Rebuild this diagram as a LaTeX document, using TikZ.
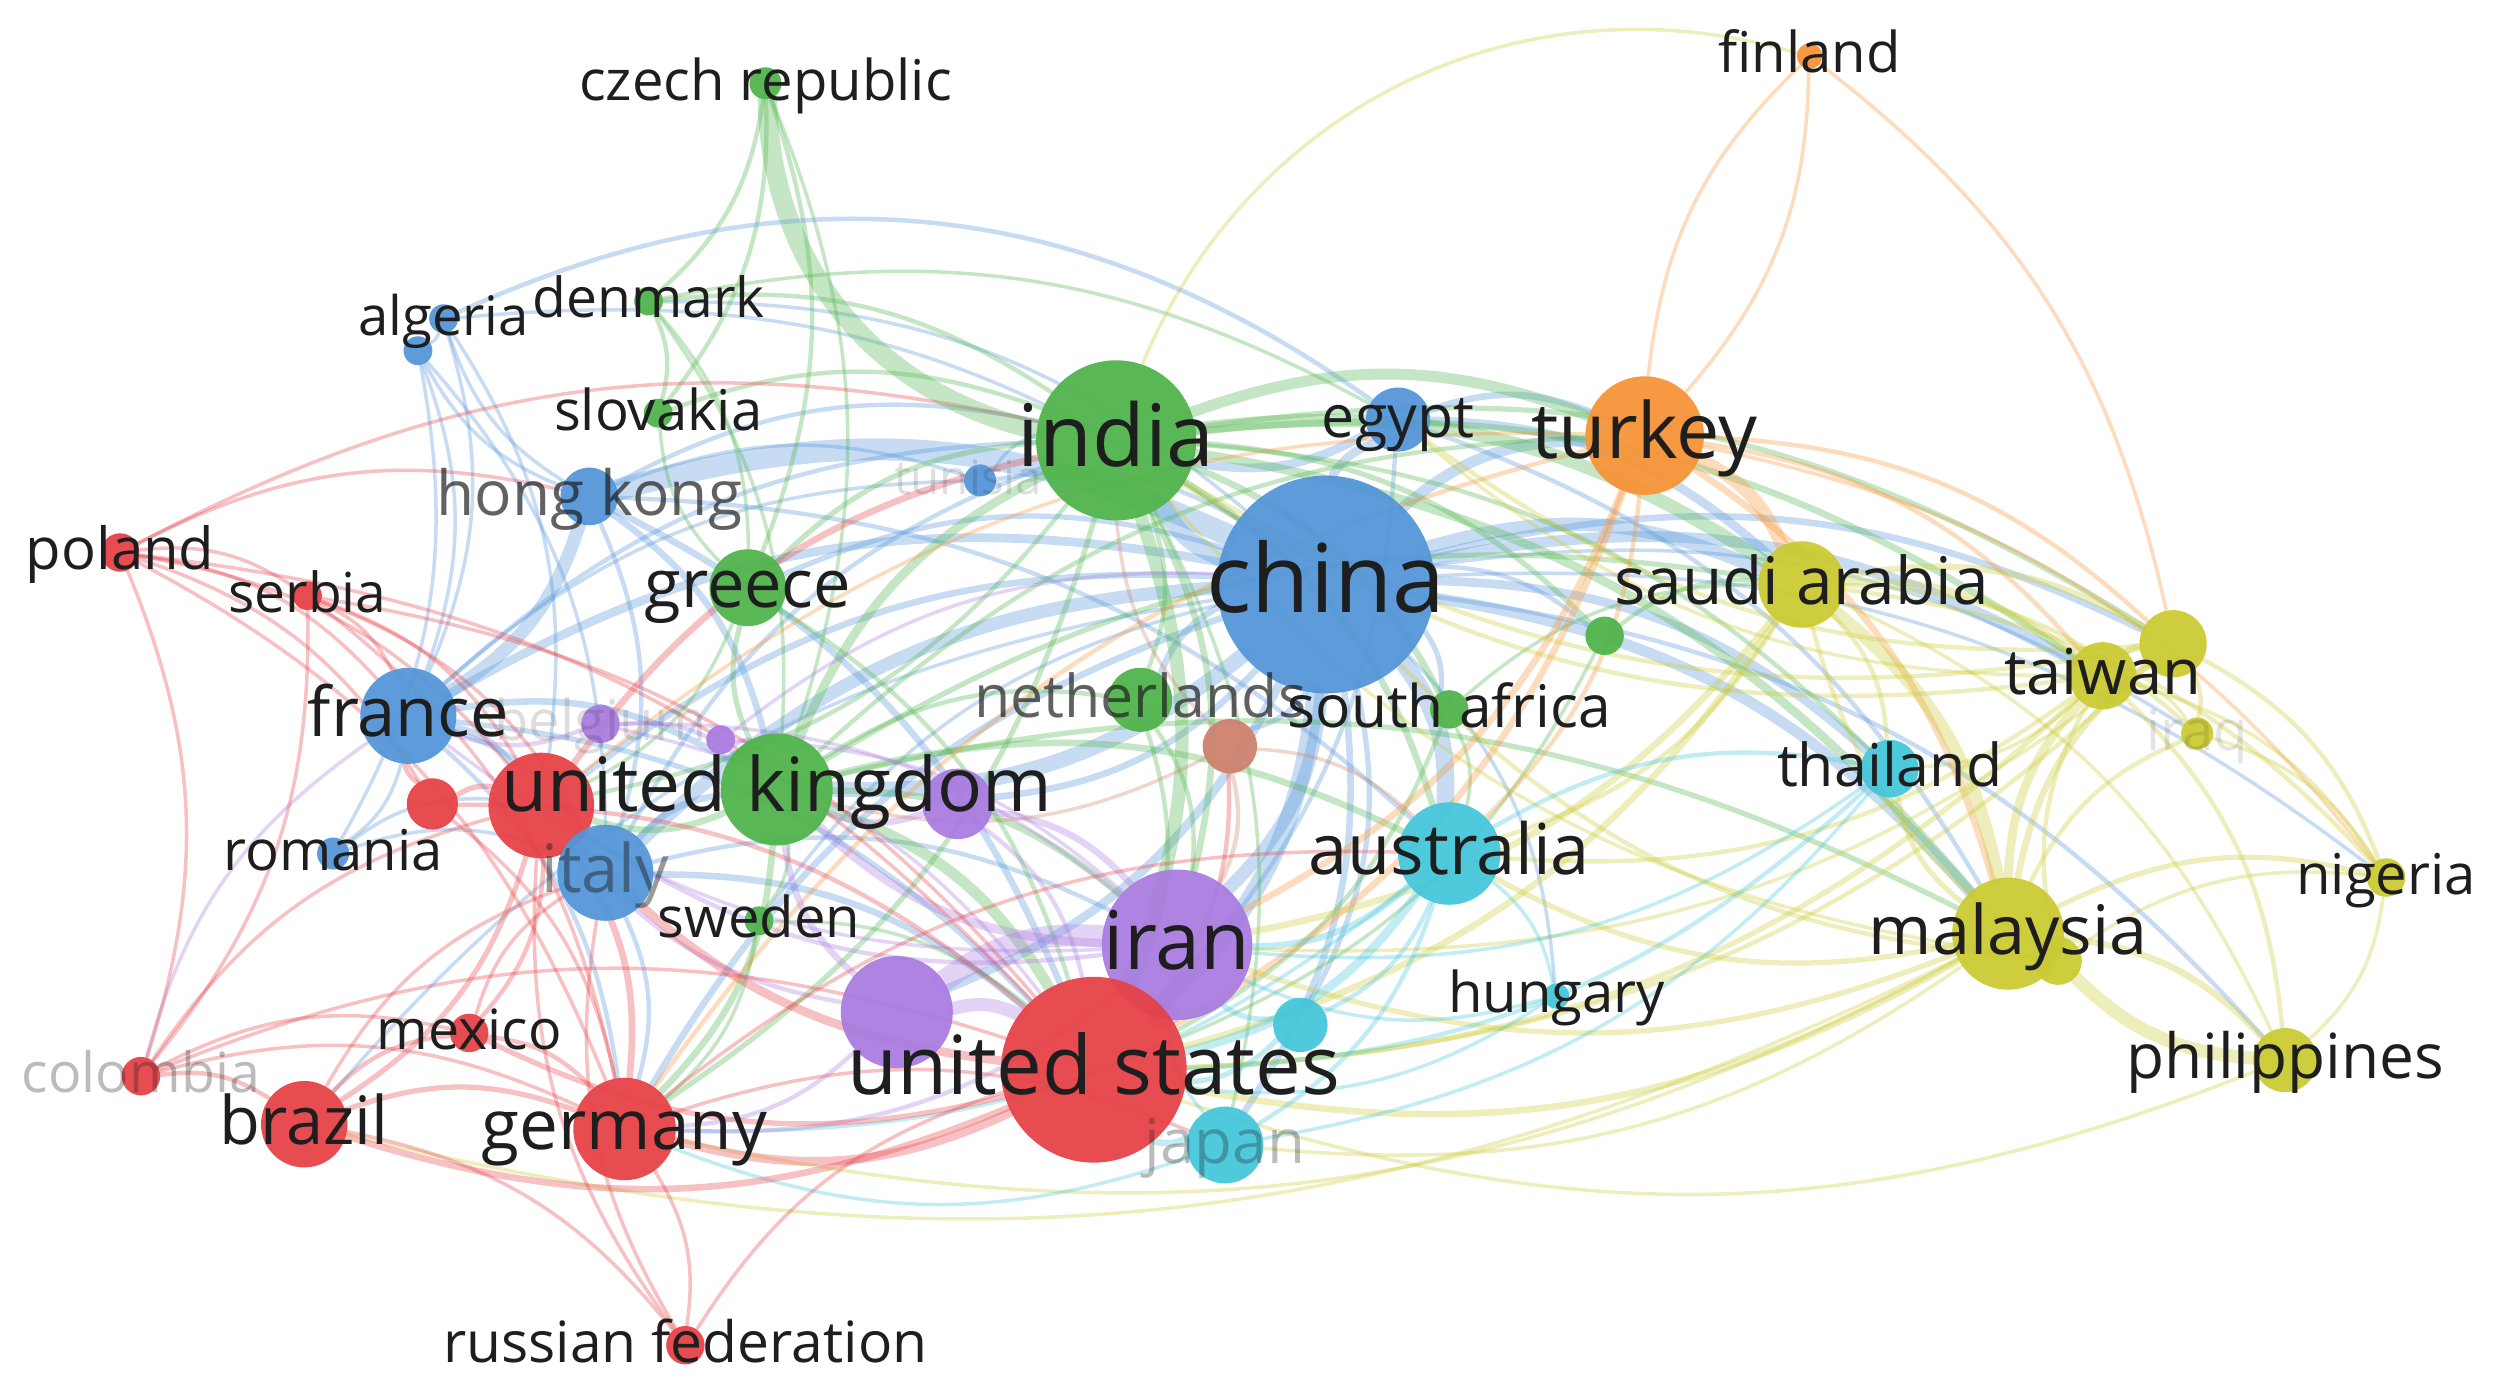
\documentclass[tikz,border=0pt]{standalone}
\usepackage{fontspec}
\setmainfont{Open Sans}
\newcommand\lfs[1]{\fontsize{#1}{#1}\selectfont}
\definecolor{cR}{RGB}{230,66,72}
\definecolor{cG}{RGB}{80,180,76}
\definecolor{cB}{RGB}{84,150,216}
\definecolor{cY}{RGB}{202,202,52}
\definecolor{cP}{RGB}{170,124,224}
\definecolor{cC}{RGB}{70,198,218}
\definecolor{cO}{RGB}{246,148,56}
\definecolor{cBr}{RGB}{206,130,110}
\definecolor{txt}{RGB}{30,30,30}
\pgfdeclarelayer{edges}
\pgfsetlayers{edges,main}
\tikzset{
  ball/.style={circle, inner sep=0pt, draw=none, fill opacity=0.95},
  lab/.style={text=txt, inner sep=0pt, anchor=base},
  edge/.style={opacity=0.33, line cap=round}
}
\begin{document}
\begin{tikzpicture}[x=0.16014mm, y=-0.16014mm]
\useasboundingbox (0,0) rectangle (1568,868.6);
% nodes
\foreach \n/\x/\y/\r/\c in {
 czech/478/52/10/cG, finland/1130/35/8/cO, algeria/277/199/9/cB, alg2/261/219/9/cB,
 denmark/405/188/9/cG, slovakia/411/258/9/cG, hongkong/368/310/18/cB, tunisia/612/300/10/cB,
 india/697/275/50/cG, egypt/873/262/20/cB, turkey/1027/272/37/cO, poland/75/345/12/cR,
 serbia/192/372/9/cR, greece/467/367/24/cG, china/828/365/68/cB, saudi/1125/365/27/cY,
 gsm/1002/397/12/cG, ybig/1357/402/21/cY, taiwan/1313/422/21/cY, france/255/447/30/cB,
 belgium/375/452/12/cP, psm/450/462/9/cP, nether/712/437/20/cG, safrica/905/443/12/cG,
 brown/768/466/17/cBr, iraq/1372/458/10/cY, thailand/1180/480/18/cC, redsm/270/502/16/cR,
 spain/338/503/33/cR, uk/485/493/35/cG, purp2/598/502/22/cP, romania/208/533/10/cB,
 italy/378/545/30/cB, australia/905/533/32/cC, nigeria/1490/548/12/cY, sweden/474/575/9/cG,
 iran/735/590/47/cP, malaysia/1254/583/35/cY, ymal/1285/600/15/cY, purp3/560/632/35/cP,
 hungary/972/622/8/cC, cyan2/812/640/17/cC, mexico/293/645/12/cR, usa/683/668/58/cR,
 philippines/1427/662/20/cY, colombia/88/672/12/cR, brazil/190/702/27/cR, germany/390/705/32/cR,
 japan/765/715/24/cC, russia/428/840/12/cR}
 \node[ball, fill=\c, minimum size={2*\r*0.16014mm}] (\n) at (\x,\y) {};
% edges
\begin{pgfonlayer}{edges}
\foreach \a/\b/\w/\c in {
 hongkong/china/5/cB, china/usa/4/cB, china/uk/3.5/cB, china/india/4/cB, china/australia/4/cB,
 china/iran/3/cB, china/egypt/2/cB, china/turkey/2.5/cB, china/saudi/3/cB, china/taiwan/2.5/cB,
 china/malaysia/2.5/cB, china/thailand/2/cB, france/china/2/cB, italy/china/3/cB, spain/china/1.5/cB,
 germany/china/1.5/cB, greece/china/1.2/cB, nether/china/1.5/cB, china/safrica/1.2/cB, china/japan/1.5/cB,
 china/cyan2/1.2/cB, china/purp3/2/cB, china/purp2/1.5/cB, china/ybig/1.5/cB, china/philippines/1/cB,
 china/nigeria/0.8/cB, china/iraq/0.8/cB, china/hungary/0.8/cB, brazil/china/0.8/cB, tunisia/china/1/cB,
 algeria/china/0.8/cB, china/gsm/1/cB, china/brown/1.2/cB, sweden/china/0.8/cB, denmark/china/0.8/cB,
 hongkong/france/3/cB, hongkong/uk/1.5/cB, hongkong/usa/1.5/cB, hongkong/italy/1/cB, hongkong/algeria/0.8/cB,
 hongkong/alg2/0.8/cB, hongkong/india/1/cB, hongkong/australia/1/cB, france/spain/1.5/cB, france/italy/1.2/cB,
 france/uk/1.5/cB, france/usa/1.2/cB, france/germany/1/cB, france/romania/0.8/cB, algeria/france/0.8/cB,
 alg2/france/0.8/cB, france/tunisia/0.8/cB, france/india/1/cB, italy/uk/1.5/cB, italy/usa/1.5/cB,
 italy/spain/1.2/cB, italy/germany/1/cB, italy/iran/1/cB, alg2/italy/0.8/cB, italy/india/1/cB,
 romania/spain/0.8/cB, romania/italy/0.8/cB, alg2/romania/0.8/cB, egypt/india/2/cB, egypt/saudi/2/cB,
 egypt/usa/1/cB, egypt/turkey/1.5/cB, egypt/malaysia/1/cB, hongkong/tunisia/0.8/cB,
 tunisia/india/0.8/cB, algeria/alg2/0.8/cB, algeria/spain/0.8/cB,
 india/usa/3/cG, uk/india/2/cG, india/saudi/3/cG, india/turkey/2.5/cG,
 india/malaysia/2/cG, india/taiwan/1.5/cG, india/australia/1.5/cG, india/iran/1.5/cG, greece/india/1.2/cG,
 slovakia/india/1/cG, denmark/india/1/cG, india/nether/1/cG, india/safrica/1.5/cG, india/gsm/1.2/cG,
 india/germany/1.2/cG, india/spain/1/cG, india/ybig/1.2/cG, india/thailand/1/cG,
 india/japan/0.8/cG, czech/denmark/1/cG, czech/slovakia/1/cG, czech/greece/1/cG,
 czech/uk/0.8/cG, denmark/slovakia/1/cG, denmark/greece/0.8/cG, denmark/uk/0.8/cG, denmark/egypt/0.8/cG,
 uk/usa/2.5/cG, uk/germany/1.5/cG, uk/spain/1.5/cG, uk/iran/1.5/cG, uk/greece/1.2/cG, uk/nether/1/cG,
 uk/australia/1.5/cG, uk/saudi/1.2/cG, uk/malaysia/1.2/cG, uk/turkey/1/cG, uk/sweden/0.8/cG,
 greece/usa/1/cG, greece/slovakia/0.8/cG, greece/spain/0.8/cG, nether/usa/1/cG, nether/iran/1/cG,
 safrica/usa/1/cG, safrica/australia/0.8/cG, safrica/saudi/0.8/cG, gsm/saudi/1/cG, gsm/usa/0.8/cG,
 sweden/usa/0.8/cG, sweden/germany/0.8/cG,
 turkey/saudi/3/cO, turkey/usa/1.5/cO, turkey/iran/1.5/cO, turkey/malaysia/1.5/cO, turkey/taiwan/1/cO,
 turkey/australia/1/cO, germany/turkey/1/cO, turkey/finland/0.8/cO, finland/turkey/0.8/cO, finland/ybig/0.8/cO,
 turkey/ybig/1/cO, turkey/nigeria/0.8/cO, spain/turkey/0.8/cO,
 saudi/malaysia/3/cY, saudi/usa/1.5/cY, saudi/iran/1.5/cY, saudi/australia/1/cY, saudi/taiwan/1.5/cY,
 saudi/ybig/1.5/cY, saudi/nigeria/1/cY, saudi/iraq/1/cY, saudi/thailand/1/cY, saudi/philippines/0.8/cY,
 malaysia/taiwan/2/cY, malaysia/ybig/1.5/cY, malaysia/nigeria/1.2/cY, malaysia/iraq/1/cY, malaysia/philippines/1.5/cY,
 malaysia/thailand/1.2/cY, malaysia/australia/1.2/cY, malaysia/usa/1.5/cY, malaysia/iran/1.2/cY, malaysia/germany/0.8/cY,
 malaysia/brazil/0.8/cY, malaysia/japan/0.8/cY, philippines/ymal/3/cY, ymal/malaysia/2/cY, ymal/taiwan/1/cY,
 ymal/saudi/1/cY, ymal/china/1/cY, ymal/nigeria/0.8/cY, ymal/india/0.8/cY, taiwan/ybig/1.5/cY,
 taiwan/usa/1.2/cY, taiwan/nigeria/0.8/cY, taiwan/iraq/0.8/cY, taiwan/thailand/0.8/cY, taiwan/australia/1/cY,
 taiwan/philippines/1/cY, ybig/nigeria/1/cY, ybig/iraq/1/cY, ybig/egypt/1/cY, ybig/usa/1/cY,
 ybig/iran/0.8/cY, iraq/nigeria/0.8/cY, philippines/usa/0.8/cY, nigeria/philippines/0.8/cY,
 taiwan/india/1/cY, ybig/india/1/cY, taiwan/egypt/0.8/cY,
 australia/usa/2/cC, australia/iran/1.5/cC, australia/thailand/1/cC, australia/japan/1/cC, australia/hungary/0.8/cC,
 australia/cyan2/1/cC, australia/germany/0.8/cC, thailand/usa/1/cC, thailand/japan/0.8/cC, thailand/iran/0.8/cC,
 japan/usa/1.5/cC, japan/germany/0.8/cC, japan/iran/0.8/cC, cyan2/usa/1.2/cC, cyan2/iran/1.2/cC,
 hungary/usa/0.8/cC, hungary/iran/0.8/cC,
 iran/usa/5/cP, purp3/iran/5/cP, purp3/usa/3/cP, iran/uk/2/cP, purp3/uk/1.5/cP,
 purp2/iran/1.5/cP, purp2/uk/1.5/cP, purp2/usa/1/cP, iran/germany/1/cP, iran/spain/1/cP,
 iran/france/0.8/cP, belgium/france/1/cP, belgium/uk/1/cP, belgium/usa/0.8/cP, belgium/iran/0.8/cP,
 psm/uk/1/cP, psm/iran/0.8/cP, psm/china/0.8/cP, purp3/germany/1/cP, purp3/spain/1/cP,
 colombia/france/0.8/cP,
 usa/germany/2/cR, usa/brazil/1.5/cR, usa/mexico/1.2/cR, usa/spain/2/cR, colombia/usa/0.8/cR,
 russia/usa/0.8/cR, poland/usa/0.8/cR, serbia/usa/0.8/cR, redsm/usa/1/cR, brown/usa/1/cR,
 spain/germany/1.5/cR, spain/brazil/1.2/cR, spain/mexico/1/cR, redsm/spain/1.2/cR, poland/spain/0.8/cR,
 serbia/spain/0.8/cR, colombia/spain/0.8/cR, russia/spain/0.8/cR, redsm/france/1/cR, redsm/germany/0.8/cR,
 poland/redsm/0.8/cR, brazil/germany/1.2/cR, brazil/mexico/1/cR, colombia/brazil/1/cR, brazil/russia/0.8/cR,
 brazil/italy/0.8/cR, mexico/germany/1/cR, colombia/mexico/0.8/cR, mexico/italy/0.8/cR, germany/russia/0.8/cR,
 poland/germany/0.8/cR, colombia/germany/0.8/cR, germany/australia/0.8/cR, germany/japan/0.8/cR, poland/serbia/0.8/cR,
 poland/france/0.8/cR, poland/colombia/0.8/cR, poland/india/0.8/cR, poland/hongkong/0.8/cR, serbia/france/0.8/cR,
 serbia/colombia/0.8/cR, serbia/germany/0.8/cR, serbia/italy/0.8/cR, spain/india/1.5/cR, russia/italy/0.8/cR,
 brown/iran/1/cBr, brown/india/0.8/cBr, brown/uk/0.8/cBr, brown/australia/0.8/cBr}
 \draw[edge, draw=\c, line width={\w*1.25pt}] (\a) to[bend left=20] (\b);
\draw[edge, draw=cG, line width=5.5pt] (india) to[bend left=38] (czech);
\draw[edge, draw=cY, line width=1pt] (india) to[bend left=42] (finland);
\draw[edge, draw=cB, line width=1.3pt] (algeria) to[bend left=30] (egypt);
\end{pgfonlayer}
% labels
\foreach \n/\t/\s/\o in {
 czech/czech republic/16/1, finland/finland/16/1, algeria/algeria/15.5/1, denmark/denmark/15.7/1,
 slovakia/slovakia/16/1, hongkong/hong kong/17.7/0.7, india/india/24.5/1,
 egypt/egypt/16.8/1, turkey/turkey/22/1, poland/poland/16.5/1, serbia/serbia/15.7/1,
 greece/greece/19/1, china/china/27/1, saudi/saudi arabia/18.7/1, taiwan/taiwan/18/1,
 france/france/19.5/1, belgium/belgium/16/0.15, nether/netherlands/16.8/0.7, safrica/south africa/16.7/1,
 iraq/iraq/16/0.12, thailand/thailand/16.8/1, uk/united kingdom/21.3/1, romania/romania/16/1,
 italy/italy/19/0.45, australia/australia/20/1, nigeria/nigeria/16/1, sweden/sweden/16/1,
 iran/iran/23/1, malaysia/malaysia/19.4/1, hungary/hungary/16/1, mexico/mexico/15.8/1,
 usa/united states/23.2/1, philippines/philippines/17.7/1, colombia/colombia/15.8/0.3, brazil/brazil/19/1,
 germany/germany/19.7/1, japan/japan/17.6/0.3, russia/russian federation/16.2/1}
 \node[lab, font=\lfs{\s}, text opacity=\o, yshift={-0.3*\s*1pt}] (\n-l) at (\n.center) {\t};
\node[lab, font=\lfs{13.5}, text opacity=0.15, yshift=-4pt] (tunisia-l) at ([xshift=-1.2mm]tunisia.center) {tunisia};
\end{tikzpicture}
\end{document}
